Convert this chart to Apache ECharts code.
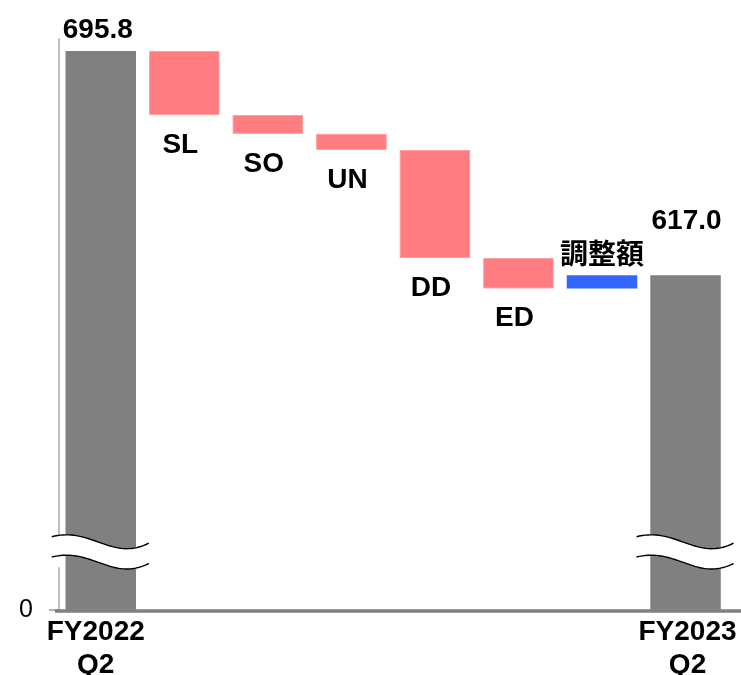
<!DOCTYPE html>
<html><head><meta charset="utf-8">
<script src="https://cdn.jsdelivr.net/npm/echarts@6/dist/echarts.min.js"></script>
<style>html,body{margin:0;padding:0;background:#fff}#c{width:741px;height:675px}</style>
</head><body><div id="c"></div>
<script>
const categories = ['FY2022\nQ2', 'SL', 'SO', 'UN', 'DD', 'ED', '調整額', 'FY2023\nQ2'];
const startValue = 695.8;
const changes = [-22.5, -6.6, -5.7, -37.9, -10.7, 4.6];
const endValue = 617.0;
const yTickValues = [0];

const FONT = "'Liberation Sans', Arial, 'Noto Sans CJK JP', sans-serif";
const GRAY = '#808080', PINK = '#FF7C80', BLUE = '#3366FF';

const base = [0], vis = [startValue];
let run = startValue;
changes.forEach(d => { const nx = run + d; base.push(Math.min(run, nx)); vis.push(Math.abs(d)); run = nx; });
base.push(0); vis.push(endValue);

const last = categories.length - 1;
const mainData = vis.map((v, i) => {
  const isTotal = i === 0 || i === last;
  const d = isTotal ? 0 : changes[i - 1];
  const color = isTotal ? GRAY : (d < 0 ? PINK : BLUE);
  let label;
  if (isTotal) {
    label = { show: true, position: 'top', distance: i === 0 ? 7 : 40,
      offset: i === 0 ? [-3, 0] : [1, 0],
      formatter: (i === 0 ? startValue : endValue).toFixed(1) };
  } else {
    label = { show: true, position: d < 0 ? 'bottom' : 'top', distance: d < 0 ? 16 : 5,
      offset: d < 0 ? [-4, 0] : [0, 0],
      formatter: categories[i] };
  }
  return { value: v, itemStyle: { color: color, borderColor: d < 0 ? '#FFA0A3' : color, borderWidth: d < 0 ? 1 : 0 }, label: label };
});

const chart = echarts.init(document.getElementById('c'), null, { renderer: 'canvas' });
const option = {
  animation: false,
  backgroundColor: '#fff',
  textStyle: { fontFamily: FONT },
  grid: { left: 59, right: 13.7, top: 39, bottom: 65, containLabel: false, outerBoundsMode: 'none' },
  xAxis: {
    type: 'category', data: categories,
    axisLine: { show: false }, axisTick: { show: false },
    axisLabel: {
      interval: (i) => i === 0 || i === last,
      formatter: (v, i) => i === 0 ? '{a|' + v.replace('\n', '}\n{a|') + '}' : '{b|' + v.replace('\n', '}\n{b|') + '}',
      rich: {
        a: { fontFamily: FONT, fontWeight: 'bold', fontSize: 28, color: '#000', lineHeight: 33, padding: [0, 10, 0, 0] },
        b: { fontFamily: FONT, fontWeight: 'bold', fontSize: 28, color: '#000', lineHeight: 33, padding: [0, 0, 0, 4] }
      },
      fontFamily: FONT, fontWeight: 'bold', fontSize: 28, color: '#000', lineHeight: 33, margin: 6
    }
  },
  yAxis: {
    type: 'value', min: 0, max: 700,
    breaks: [{ start: 15, end: 521.5, gap: '3.5%' }],
    breakArea: { show: false },
    splitLine: { show: false },
    axisLine: { show: true, lineStyle: { color: '#c0c0c0', width: 2 } },
    axisTick: { show: true, customValues: yTickValues, length: 10, lineStyle: { color: '#b0b0b0', width: 2 } },
    axisLabel: { customValues: yTickValues, fontFamily: FONT, fontSize: 25, color: '#000', margin: 26 }
  },
  series: [
    { type: 'bar', stack: 'w', data: base, silent: true, barWidth: 70.5,
      itemStyle: { color: 'rgba(0,0,0,0)' }, label: { show: false } },
    { type: 'bar', stack: 'w', data: mainData, barWidth: 70.5,
      label: { fontFamily: FONT, fontWeight: 'bold', fontSize: 28, color: '#000' } }
  ]
};
chart.setOption(option);

function bez(p0, p1, p2, p3, t) {
  const u = 1 - t;
  return u*u*u*p0 + 3*u*u*t*p1 + 3*u*t*t*p2 + t*t*t*p3;
}
function wavePts(sx, sy) {
  const pts = [];
  for (let k = 0; k <= 40; k++) {
    const t = k / 40;
    pts.push([sx + bez(0, 40, 60, 97, t), sy + bez(0, -10, 25, 6.5, t)]);
  }
  return pts;
}
const y0 = chart.convertToPixel({ yAxisIndex: 0 }, 0);
const graphics = [];
[0, last].forEach(idx => {
  const cx = chart.convertToPixel({ xAxisIndex: 0 }, idx);
  const top = wavePts(cx - 49, y0 - 73.3);
  const bot = wavePts(cx - 49, y0 - 53);
  graphics.push({ type: 'polygon', z: 100, shape: { points: top.concat(bot.slice().reverse()) },
    style: { fill: '#fff', stroke: null } });
  graphics.push({ type: 'polyline', z: 101, shape: { points: top }, style: { stroke: '#000', lineWidth: 1.4, fill: null } });
  graphics.push({ type: 'polyline', z: 101, shape: { points: bot }, style: { stroke: '#000', lineWidth: 1.4, fill: null } });
});
graphics.push({ type: 'line', z: 90, shape: { x1: 55, y1: y0 + 1, x2: 741, y2: y0 + 1 },
  style: { stroke: GRAY, lineWidth: 3.5 } });
chart.setOption({ graphic: graphics });
</script></body></html>
